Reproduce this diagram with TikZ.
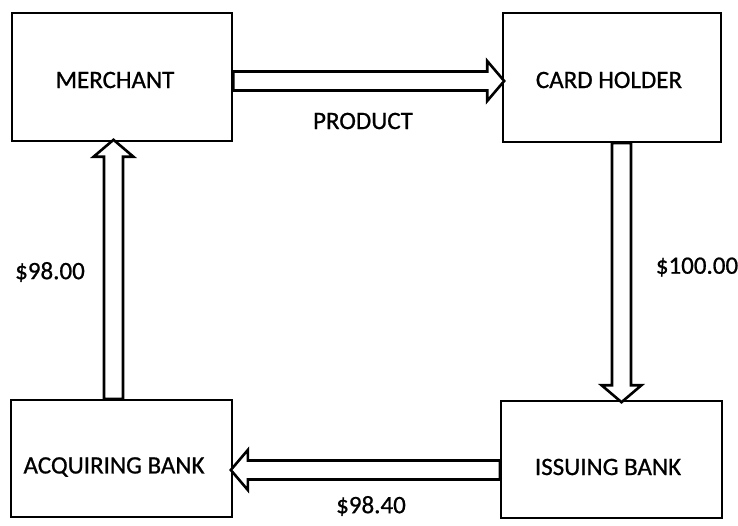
\documentclass[tikz,border=0pt]{standalone}
\usepackage{fontspec}
\setmainfont{Carlito}
\newfontfamily\dfont{Carlito}[FakeBold=0.8]
\usetikzlibrary{calc}
\tikzset{
  box/.style={draw=black, line width=2.4pt, rectangle, inner sep=0pt},
  txt/.style={font=\dfont\fontsize{25}{29}\selectfont, text=black, inner sep=0pt},
  blk/.style={draw=black, line width=2.6pt, fill=white, line join=miter},
}
\newcommand\blockarrow[3]{%
  \begin{scope}[shift={#1}, rotate=#2]
    \draw[blk] (0,-9.5) -- (#3-17,-9.5) -- (#3-17,-20) -- (#3,0) -- (#3-17,20) -- (#3-17,9.5) -- (0,9.5) -- cycle;
  \end{scope}}
\begin{document}
\begin{tikzpicture}[x=1pt,y=-1pt]
\useasboundingbox (0,0) rectangle (738,526);
% boxes
\node[box, minimum width=220pt, minimum height=128pt] (m) at (122,77) {};
\node[box, minimum width=218pt, minimum height=129pt] (c) at (612,77.5) {};
\node[box, minimum width=221pt, minimum height=117pt] (a) at (121.5,458.5) {};
\node[box, minimum width=221pt, minimum height=117pt] (i) at (611.5,459.5) {};
% box texts
\node[txt] (mt) at (115,80) {MERCHANT};
\node[txt] (ct) at (609,80) {CARD HOLDER};
\node[txt] (at) at (114,467) {ACQUIRING BANK};
\node[txt] (it) at (608,467) {ISSUING BANK};
% block arrows
\blockarrow{($(m.east)+(0,4)$)}{0}{271}      % merchant -> card holder
\blockarrow{($(c.south)+(9.5,0)$)}{-90}{259} % card holder -> issuing bank
\blockarrow{($(i.west)+(0,10.5)$)}{180}{269} % issuing bank -> acquiring bank
\blockarrow{($(a.north)+(-8,0)$)}{90}{259}   % acquiring bank -> merchant
% labels
\node[txt] (lp) at (363,121) {PRODUCT};
\node[txt] (l98) at (50,272) {\$98.00};
\node[txt] (l100) at (697,267) {\$100.00};
\node[txt] (l984) at (371,506) {\$98.40};
\end{tikzpicture}
\end{document}
